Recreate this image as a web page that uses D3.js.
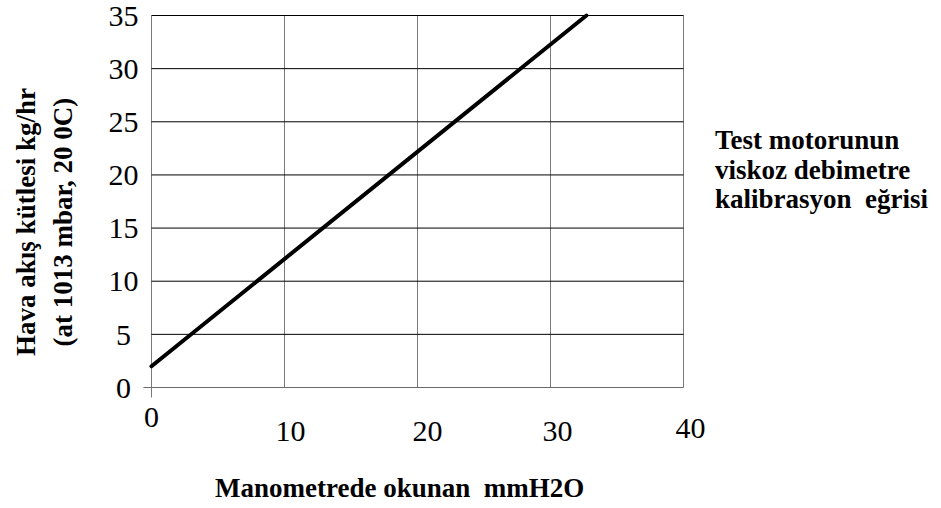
<!DOCTYPE html>
<html>
<head>
<meta charset="utf-8">
<script src="https://cdn.jsdelivr.net/npm/d3@7/dist/d3.min.js"></script>
<style>
  html, body { margin: 0; padding: 0; background: #fff; }
  svg { display: block; }
  text { font-family: "Liberation Serif", "Times New Roman", serif; fill: #000; white-space: pre; }
  .tick-label { font-size: 30px; }
  .title { font-size: 27px; font-weight: bold; }
</style>
</head>
<body>
<svg id="chart" width="941" height="508"></svg>
<script>
// Calibration line: air mass flow vs. manometer reading
const flowX = [0, 32.7];        // mmH2O
const flowY = [2, 35];          // kg/hr
const xTicks = [0, 10, 20, 30, 40];
const yTicks = [0, 5, 10, 15, 20, 25, 30, 35];
const xTitle = "Manometrede okunan  mmH2O";
const yTitleLines = ["Hava akış kütlesi kg/hr", "(at 1013 mbar, 20 0C)"];
const sideNote = ["Test motorunun", "viskoz debimetre", "kalibrasyon  eğrisi"];

const svg = d3.select("#chart");
const plot = { left: 151.5, right: 683.5, top: 15.5, bottom: 387.5 };

const x = d3.scaleLinear().domain([0, 40]).range([plot.left, plot.right]);
const y = d3.scaleLinear().domain([0, 35]).range([plot.bottom, plot.top]);

// grid: vertical lines grey, horizontal lines black
const grid = svg.append("g");
grid.selectAll("line.v").data(xTicks).join("line")
  .attr("x1", d => x(d)).attr("x2", d => x(d))
  .attr("y1", y(35)).attr("y2", d => d === 0 ? y(0) + 10 : y(0))
  .attr("stroke", "#7a7a7a").attr("stroke-width", 1);
grid.selectAll("line.h").data(yTicks).join("line")
  .attr("x1", d => d === 0 ? x(0) - 8 : x(0)).attr("x2", x(40))
  .attr("y1", d => y(d)).attr("y2", d => y(d))
  .attr("stroke", d => d === 0 ? "#6a6a6a" : "#000").attr("stroke-width", 1);

// y tick labels centred left of the axis
svg.append("g").selectAll("text").data(yTicks).join("text")
  .attr("class", "tick-label")
  .attr("x", x(0) - 28)
  .attr("y", d => y(d))
  .attr("dy", "0.34em")
  .attr("text-anchor", "middle")
  .text(d => d);

// x tick labels, set slightly off their grid lines
const xLabelShift = { 0: [0, 39], 10: [6, 53], 20: [10, 53], 30: [7, 53], 40: [7, 50] };
svg.append("g").selectAll("text").data(xTicks).join("text")
  .attr("class", "tick-label")
  .attr("x", d => x(d) + xLabelShift[d][0])
  .attr("y", d => y(0) + xLabelShift[d][1])
  .attr("text-anchor", "middle")
  .text(d => d);

// calibration line
const line = d3.line().x(d => x(d[0])).y(d => y(d[1]));
svg.append("path")
  .datum(flowX.map((v, i) => [v, flowY[i]]))
  .attr("d", line)
  .attr("fill", "none")
  .attr("stroke", "#000")
  .attr("stroke-width", 4)
  .attr("stroke-linecap", "round");

// axis titles
svg.append("text").attr("class", "title")
  .attr("x", 215).attr("y", 497)
  .text(xTitle);

const yt = svg.append("text").attr("class", "title")
  .attr("transform", "translate(0,222) rotate(-90)")
  .attr("text-anchor", "middle");
yTitleLines.forEach((t, i) => {
  yt.append("tspan").attr("x", 0).attr("y", 35 + i * 37).text(t);
});

const note = svg.append("text").attr("class", "title");
sideNote.forEach((t, i) => {
  note.append("tspan").attr("x", 715).attr("y", 149 + i * 29.5).text(t);
});
</script>
</body>
</html>
